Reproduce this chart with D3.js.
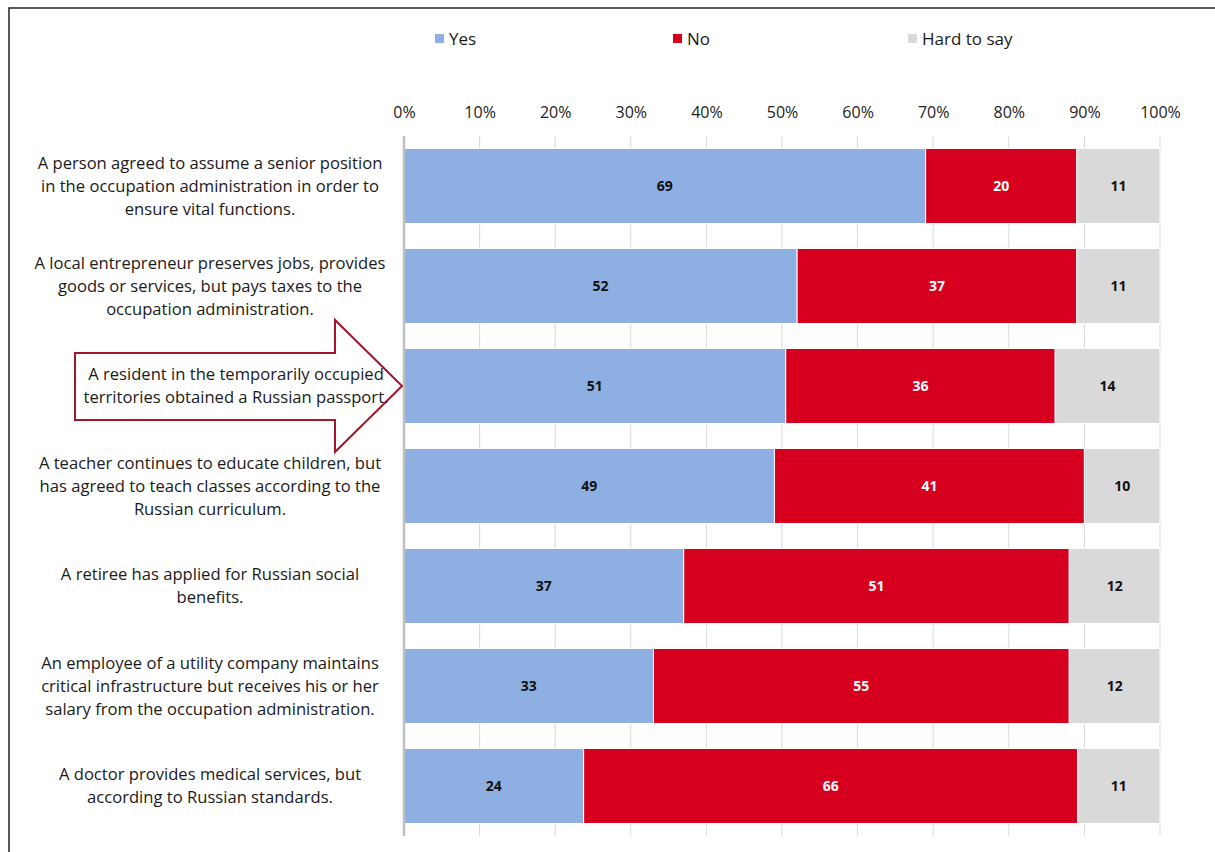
<!DOCTYPE html>
<html>
<head>
<meta charset="utf-8">
<script src="https://cdn.jsdelivr.net/npm/d3@7"></script>
<style>
  body { margin: 0; background: #fff; }
  svg { display: block; font-family: "Open Sans", "Noto Sans", sans-serif; }
</style>
</head>
<body>
<div id="chart"></div>
<script>
// stacked 100% bars: Yes / No / Hard to say
const categories = [
  ['A person agreed to assume a senior position', 'in the occupation administration in order to', 'ensure vital functions.'],
  ['A local entrepreneur preserves jobs, provides', 'goods or services, but pays taxes to the', 'occupation administration.'],
  ['A resident in the temporarily occupied', 'territories obtained a Russian passport.'],
  ['A teacher continues to educate children, but', 'has agreed to teach classes according to the', 'Russian curriculum.'],
  ['A retiree has applied for Russian social', 'benefits.'],
  ['An employee of a utility company maintains', 'critical infrastructure but receives his or her', 'salary from the occupation administration.'],
  ['A doctor provides medical services, but', 'according to Russian standards.']
];
const seriesNames = ['Yes', 'No', 'Hard to say'];
const yesValues  = [69, 52, 51, 49, 37, 33, 24];
const noValues   = [20, 37, 36, 41, 51, 55, 66];
const hardValues = [11, 11, 14, 10, 12, 12, 11];
const tickValues = [0, 0.1, 0.2, 0.3, 0.4, 0.5, 0.6, 0.7, 0.8, 0.9, 1];
const highlighted = 2;

const colors = ['#8DAFE1', '#D6001E', '#D9D9D9'];
const labelColors = ['#111', '#fff', '#111'];

const width = 1215, height = 852;
const rows = categories.map((c, i) => ({
  key: i, lines: c,
  'Yes': yesValues[i], 'No': noValues[i], 'Hard to say': hardValues[i]
}));

const svg = d3.select('#chart').append('svg')
  .attr('width', width).attr('height', height);

// outer frame (runs past the right/bottom edge)
svg.append('rect')
  .attr('x', 9).attr('y', 8).attr('width', 1400).attr('height', 1000)
  .attr('fill', 'none').attr('stroke', '#222').attr('stroke-width', 1.5);

const x = d3.scaleLinear().domain([0, 1]).range([404, 1160]);
const y = d3.scaleBand()
  .domain(rows.map(d => d.key))
  .range([136, 836])
  .paddingInner(0.25)
  .paddingOuter(0.125);

const stack = d3.stack().keys(seriesNames).offset(d3.stackOffsetExpand);
const layers = stack(rows);

// gridlines
svg.append('g')
  .selectAll('line')
  .data(tickValues.slice(1))
  .enter().append('line')
  .attr('x1', d => x(d)).attr('x2', d => x(d))
  .attr('y1', 136).attr('y2', 836)
  .attr('stroke', '#D9D9D9').attr('stroke-width', 1);

// top axis labels
const axis = svg.append('g')
  .attr('transform', 'translate(0,118)')
  .call(d3.axisTop(x).tickValues(tickValues).tickFormat(d3.format('.0%')).tickSize(0).tickPadding(0));
axis.select('.domain').remove();
axis.selectAll('text')
  .style('font-size', '16px')
  .attr('fill', '#222')
  .style('font-family', '"Open Sans", sans-serif');

// bars
const g = svg.append('g');
layers.forEach((layer, si) => {
  g.append('g').selectAll('rect')
    .data(layer)
    .enter().append('rect')
    .attr('x', d => x(d[0]))
    .attr('y', d => y(d.data.key))
    .attr('width', d => x(d[1]) - x(d[0]))
    .attr('height', y.bandwidth())
    .attr('fill', colors[si])
    .attr('stroke', '#fff')
    .attr('stroke-width', 1);

  g.append('g').selectAll('text')
    .data(layer)
    .enter().append('text')
    .attr('x', d => (x(d[0]) + x(d[1])) / 2)
    .attr('y', d => y(d.data.key) + y.bandwidth() / 2)
    .attr('dy', '0.35em')
    .attr('text-anchor', 'middle')
    .attr('fill', labelColors[si])
    .style('font-size', '14px')
    .style('font-weight', 'bold')
    .text(d => d.data[seriesNames[si]]);
});

// vertical axis line
svg.append('line')
  .attr('x1', x(0)).attr('x2', x(0))
  .attr('y1', 136).attr('y2', 836)
  .attr('stroke', '#BFBFBF').attr('stroke-width', 2.5);

// highlight arrow behind the third label
const cy = y(highlighted) + y.bandwidth() / 2;
const tip = x(0) - 2;
const arrow = d3.path();
arrow.moveTo(75, cy - 33);
arrow.lineTo(335, cy - 33);
arrow.lineTo(335, cy - 66);
arrow.lineTo(tip, cy);
arrow.lineTo(335, cy + 66);
arrow.lineTo(335, cy + 34);
arrow.lineTo(75, cy + 34);
arrow.closePath();
svg.append('path')
  .attr('d', arrow.toString())
  .attr('fill', '#fff')
  .attr('stroke', '#A0162E')
  .attr('stroke-width', 2);

// category labels
const lab = svg.append('g');
rows.forEach(r => {
  const n = r.lines.length;
  const cx = r.key === highlighted ? 236 : 210;
  const mid = y(r.key) + y.bandwidth() / 2;
  const t = lab.append('text')
    .attr('text-anchor', 'middle')
    .attr('fill', '#1a1a1a')
    .style('font-size', '16.6px');
  r.lines.forEach((line, i) => {
    t.append('tspan')
      .attr('x', cx)
      .attr('y', mid + (i - (n - 1) / 2) * 23)
      .attr('dy', '0.35em')
      .text(line);
  });
});

// legend
const legendX = [435, 673, 908];
const legend = svg.append('g');
seriesNames.forEach((s, i) => {
  legend.append('rect')
    .attr('x', legendX[i]).attr('y', 34)
    .attr('width', 9).attr('height', 9)
    .attr('fill', colors[i]);
  legend.append('text')
    .attr('x', legendX[i] + 14).attr('y', 39)
    .attr('dy', '0.35em')
    .attr('fill', '#1a1a1a')
    .style('font-size', '17px')
    .text(s);
});
</script>
</body>
</html>
